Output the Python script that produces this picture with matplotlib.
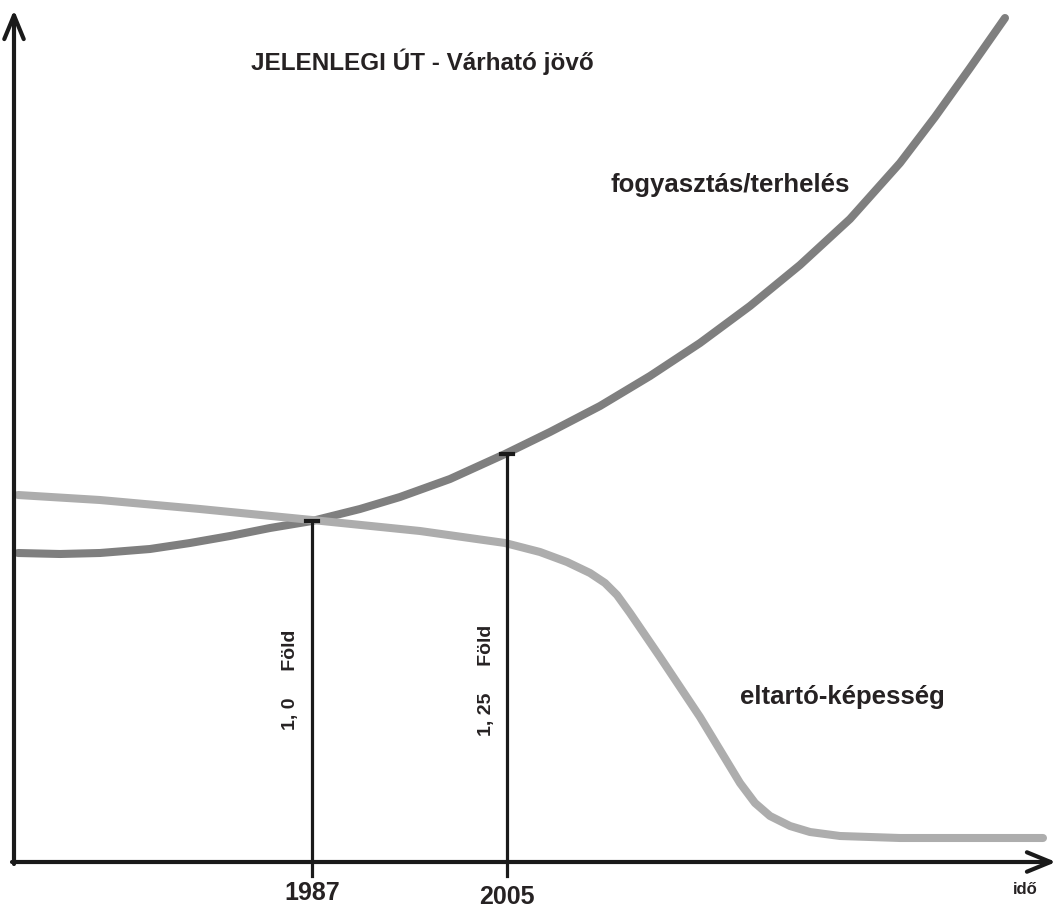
import matplotlib.pyplot as plt

# Chart values (x = time position, y = level, screen units, y grows downward)
consumption_x = [18, 60, 100, 150, 190, 230, 270, 312, 360, 400, 450, 505, 550, 600,
                 650, 700, 750, 800, 850, 900, 935, 970, 1005]
consumption_y = [553, 554, 553, 549, 543, 536, 528, 521, 509, 497, 479, 454, 432, 406,
                 376, 343, 306, 265, 219, 163, 117, 68, 18]

capacity_x = [18, 100, 200, 312, 420, 505, 540, 567, 590, 605, 617, 630, 645, 660, 680,
              700, 720, 740, 755, 770, 790, 810, 840, 900, 1043]
capacity_y = [495, 500, 509, 520, 531, 543, 552, 562, 573, 583, 595, 613, 635, 657, 687,
              717, 750, 783, 803, 816, 826, 832, 836, 838, 838]

years = ['1987', '2005']
year_x = [312, 507]
year_top = [521, 454]
earth_labels = ['1, 0     Föld', '1, 25     Föld']

title = 'JELENLEGI ÚT - Várható jövő'
consumption_label = 'fogyasztás/terhelés'
capacity_label = 'eltartó-képesség'
time_label = 'idő'

BASE_Y = 862
TEXT = '#262223'

plt.rcParams['font.family'] = ['Liberation Sans', 'DejaVu Sans']
plt.rcParams['font.weight'] = 'bold'

fig = plt.figure(figsize=(10.58, 9.14), dpi=100)
ax = fig.add_axes([0, 0, 1, 1])
ax.set_xlim(0, 1058)
ax.set_ylim(914, 0)
ax.axis('off')

# curves
ax.plot(consumption_x, consumption_y, color='#7f7f7f', lw=5.8,
        solid_capstyle='round', solid_joinstyle='round', zorder=2)
ax.plot(capacity_x, capacity_y, color='#adadad', lw=5.8,
        solid_capstyle='round', solid_joinstyle='round', zorder=3)

# axes with open arrow heads
arrow = dict(arrowstyle='->,head_length=0.85,head_width=0.35', lw=3,
             color='#1a1a1a', mutation_scale=20, shrinkA=0, shrinkB=0)
ax.annotate('', xy=(14, 10), xytext=(14, BASE_Y + 2), arrowprops=arrow, zorder=5)
ax.annotate('', xy=(1056, BASE_Y), xytext=(12, BASE_Y), arrowprops=arrow, zorder=5)

# year markers
for i, (x, top, yr, lab) in enumerate(zip(year_x, year_top, years, earth_labels)):
    ax.plot([x, x], [BASE_Y + 14, top], color='#1a1a1a', lw=2.3, zorder=4)
    ax.plot([x - 6, x + 6], [top, top], color='#1a1a1a', lw=3, zorder=4)
    ax.text(x, 893 + 4 * i, yr, ha='center', va='center', fontsize=18, color=TEXT)
    ax.text(x - 21, 680, lab, ha='center', va='center', rotation=90,
            fontsize=14, color=TEXT)

ax.text(422, 62, title, ha='center', va='center', fontsize=17.5, color=TEXT)
ax.text(730, 185, consumption_label, ha='center', va='center', fontsize=18.5, color=TEXT)
ax.text(842, 697, capacity_label, ha='center', va='center', fontsize=18.5, color=TEXT)
ax.text(1025, 889, time_label, ha='center', va='center', fontsize=12, color=TEXT)

fig.savefig('out.png', dpi=100, facecolor='white')
